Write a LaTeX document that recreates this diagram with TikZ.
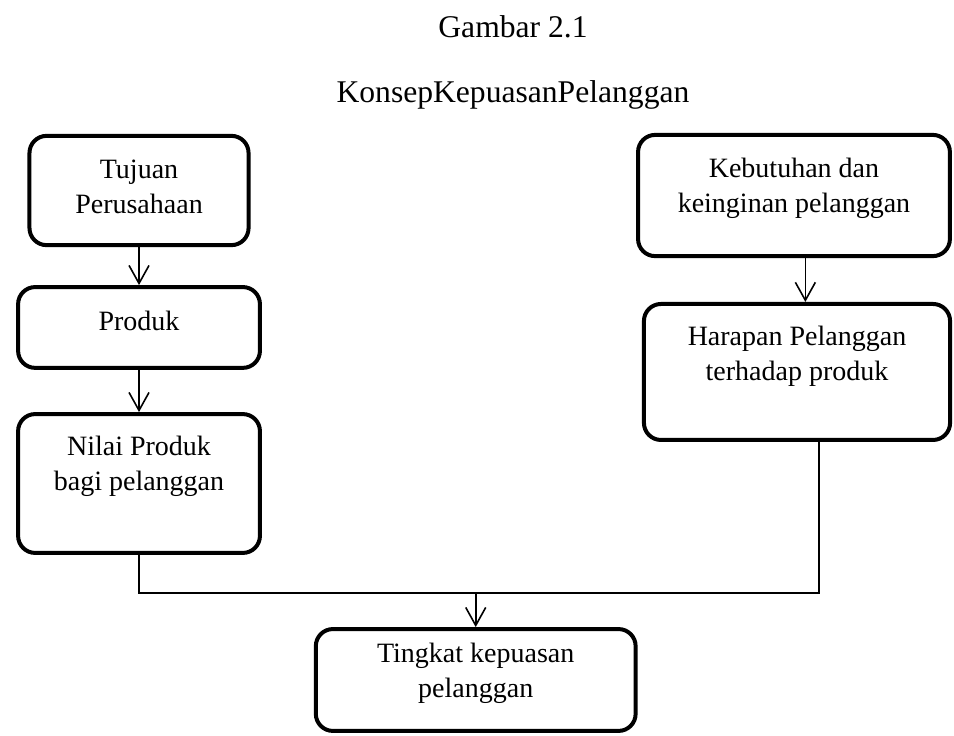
\documentclass[tikz,border=0pt]{standalone}
\usepackage{fontspec}
\setmainfont{Liberation Serif}
\usepackage{tikz}
\usetikzlibrary{calc,positioning,arrows.meta}

\begin{document}
\begin{tikzpicture}[
        box/.style={draw, line width=2pt, rounded corners=0.3cm, align=center, font=\fontsize{14}{17.5}\selectfont},
        link/.style={line width=0.8pt},
        panah/.style={{arrows = {-Straight Barb[length=9pt, width=10pt]}}}
    ]
        \useasboundingbox (0,0) rectangle (16.765,12.934);
        \node[anchor=base, font=\fontsize{15.8}{19}\selectfont] (gambar) at (9.015,12.266) {Gambar 2.1};
        \node[anchor=base, font=\fontsize{15.8}{19}\selectfont] (judul) at (9.015,11.124) {KonsepKepuasanPelanggan};
        % kolom kiri
        \node[box, minimum width=3.85cm, minimum height=1.92cm, text depth=4pt] (tujuan) at (2.443,9.586) {Tujuan\\Perusahaan};
        \node[box, minimum width=4.25cm, minimum height=1.42cm, text depth=7pt] (produk) at (2.443,7.179) {Produk};
        \node[box, minimum width=4.25cm, minimum height=2.44cm, text depth=20pt] (nilai) at (2.443,4.437) {Nilai Produk\\bagi pelanggan};
        \foreach \a/\b in {tujuan/produk,produk/nilai}
            \draw [link, panah] (\a.south) -- (\b.north);
        % kolom kanan
        \node[box, minimum width=5.48cm, minimum height=2.13cm, text depth=10pt] (kebutuhan) at (13.953,9.498) {Kebutuhan dan\\keinginan pelanggan};
        \node[box, minimum width=5.38cm, minimum height=2.39cm, text depth=19pt] (harapan) at (14.006,6.397) {Harapan Pelanggan\\terhadap produk};
        \draw [link, panah] ([xshift=0.2cm]kebutuhan.south) -- ([xshift=0.2cm]kebutuhan.south |- harapan.north);
        % hasil
        \node[box, minimum width=5.62cm, minimum height=1.79cm, text depth=10pt] (tingkat) at (8.36,0.984) {Tingkat kepuasan\\pelanggan};
        \coordinate (gabung) at (8.36,2.513);
        \draw [link] (nilai.south) |- (gabung) -| ([xshift=0.386cm]harapan.south);
        \draw [link, panah] (gabung) -- (tingkat.north);
    \end{tikzpicture}
\end{document}
